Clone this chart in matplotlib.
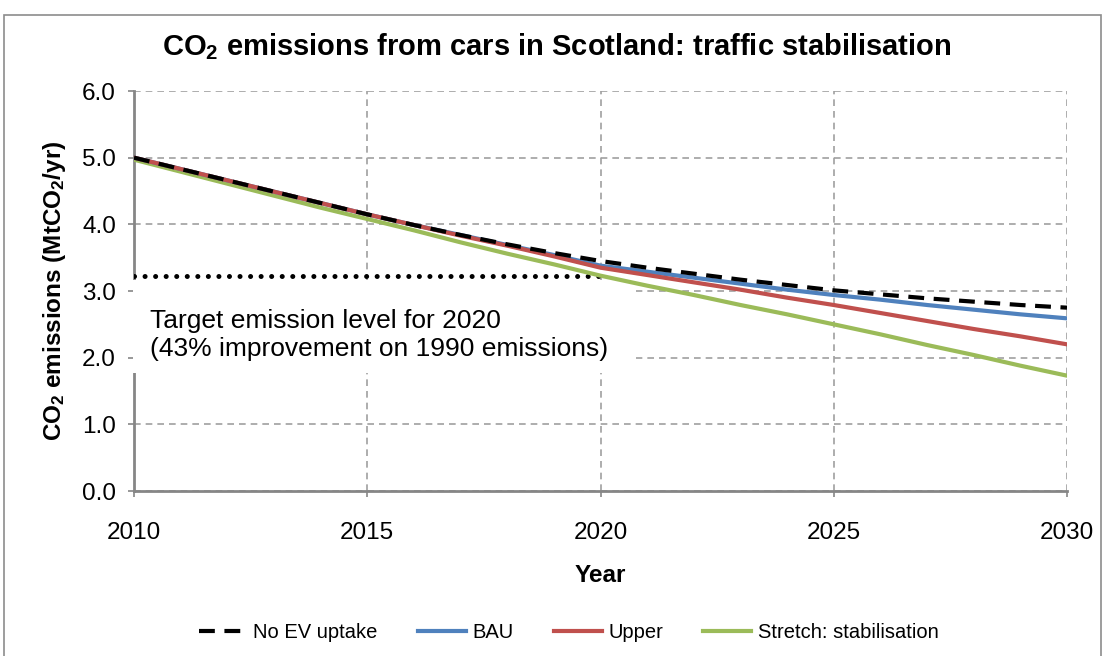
import matplotlib
matplotlib.use("Agg")
import matplotlib.pyplot as plt
from matplotlib.patches import Rectangle

plt.rcParams['font.family'] = ['Liberation Sans', 'DejaVu Sans']
plt.rcParams['mathtext.fontset'] = 'custom'
plt.rcParams['mathtext.rm'] = 'Liberation Sans'
plt.rcParams['mathtext.bf'] = 'Liberation Sans:bold'
plt.rcParams['mathtext.it'] = 'Liberation Sans:italic'

years = list(range(2010, 2031))
no_ev = [5.00, 4.83, 4.66, 4.49, 4.32, 4.15, 3.99, 3.84, 3.70, 3.57, 3.45,
         3.35, 3.26, 3.17, 3.09, 3.01, 2.95, 2.89, 2.84, 2.79, 2.75]
bau = [5.00, 4.83, 4.66, 4.49, 4.32, 4.15, 3.99, 3.84, 3.69, 3.54, 3.38,
       3.29, 3.20, 3.11, 3.02, 2.94, 2.87, 2.79, 2.72, 2.65, 2.59]
upper = [5.00, 4.83, 4.66, 4.49, 4.32, 4.15, 3.99, 3.83, 3.68, 3.52, 3.35,
         3.24, 3.13, 3.02, 2.90, 2.79, 2.67, 2.55, 2.43, 2.32, 2.20]
stretch = [4.97, 4.79, 4.61, 4.43, 4.25, 4.08, 3.91, 3.73, 3.56, 3.40, 3.23,
           3.08, 2.94, 2.79, 2.65, 2.50, 2.35, 2.19, 2.04, 1.88, 1.73]
target_years = [2010, 2020]
target_level = [3.23, 3.23]

labels = ['No EV uptake', 'BAU', 'Upper', 'Stretch: stabilisation']
x_ticks = [2010, 2015, 2020, 2025, 2030]
y_ticks = [0.0, 1.0, 2.0, 3.0, 4.0, 5.0, 6.0]

W, H = 1104, 656
fig = plt.figure(figsize=(W / 100, H / 100), dpi=100)
fig.patch.set_facecolor('white')
# outer chart border
fig.patches.append(Rectangle((4 / W, -0.01), 1097 / W, 1 - 15 / H + 0.01,
                             transform=fig.transFigure, fill=False,
                             ec='#8c8c8c', lw=1.2))

ax = fig.add_axes([134 / W, 1 - 491 / H, (1067 - 134) / W, (491 - 91) / H])
ax.set_xlim(2010, 2030)
ax.set_ylim(0, 6)
ax.set_xticks(x_ticks)
ax.set_yticks(y_ticks)
ax.set_xticklabels([str(v) for v in x_ticks])
ax.set_yticklabels([f'{v:.1f}' for v in y_ticks])
ax.grid(True, color='#a0a0a0', linestyle=(0, (4, 3)), lw=1.2)
ax.set_axisbelow(True)
for s in ['top', 'right']:
    ax.spines[s].set_visible(False)
for s in ['left', 'bottom']:
    ax.spines[s].set_color('#868686')
    ax.spines[s].set_linewidth(2)
ax.tick_params(axis='both', colors='#868686', length=4, width=1.2,
               labelcolor='black', labelsize=17.5)
ax.tick_params(axis='x', pad=18)
ax.tick_params(axis='y', pad=9)

# white box behind the annotation
ax.add_patch(Rectangle((133 / W, 1 - 373 / H), (636 - 133) / W, 93 / H,
                       transform=fig.transFigure, fc='white', ec='none',
                       zorder=2.6, clip_on=False))

ax.plot(target_years, target_level, color='black', lw=3.6,
        linestyle=(0, (0.01, 2.1)), dash_capstyle='round', zorder=3)
ax.plot(years, no_ev, color='black', lw=3, linestyle=(0, (3.8, 2.3)),
        label=labels[0], zorder=4)
ax.plot(years, bau, color='#4F81BD', lw=3, label=labels[1], zorder=3.5)
ax.plot(years, upper, color='#C0504D', lw=3, label=labels[2], zorder=3.6)
ax.plot(years, stretch, color='#9BBB59', lw=3, label=labels[3], zorder=3.4)

fig.text(150 / W, 1 - 356 / H,
         'Target emission level for 2020\n(43% improvement on 1990 emissions)',
         fontsize=19, ha='left', va='baseline', linespacing=1.22, zorder=5)

fig.text(557 / W, 1 - 47 / H,
         r'CO$_\mathbf{2}$ emissions from cars in Scotland: traffic stabilisation',
         fontsize=21, fontweight='bold', ha='center', va='center')
ax.set_xlabel('Year', fontsize=17.5, fontweight='bold', labelpad=15)
ax.set_ylabel(r'CO$_\mathbf{2}$ emissions (MtCO$_\mathbf{2}$/yr)',
              fontsize=17.5, fontweight='bold', labelpad=10)

leg = fig.legend(loc='center', bbox_to_anchor=(0.515, 1 - 633 / H), ncol=4,
                 frameon=False, fontsize=14.5, handlelength=2.4,
                 handletextpad=0.3, columnspacing=2.0)

fig.savefig('out.png', dpi=100, facecolor='white')
